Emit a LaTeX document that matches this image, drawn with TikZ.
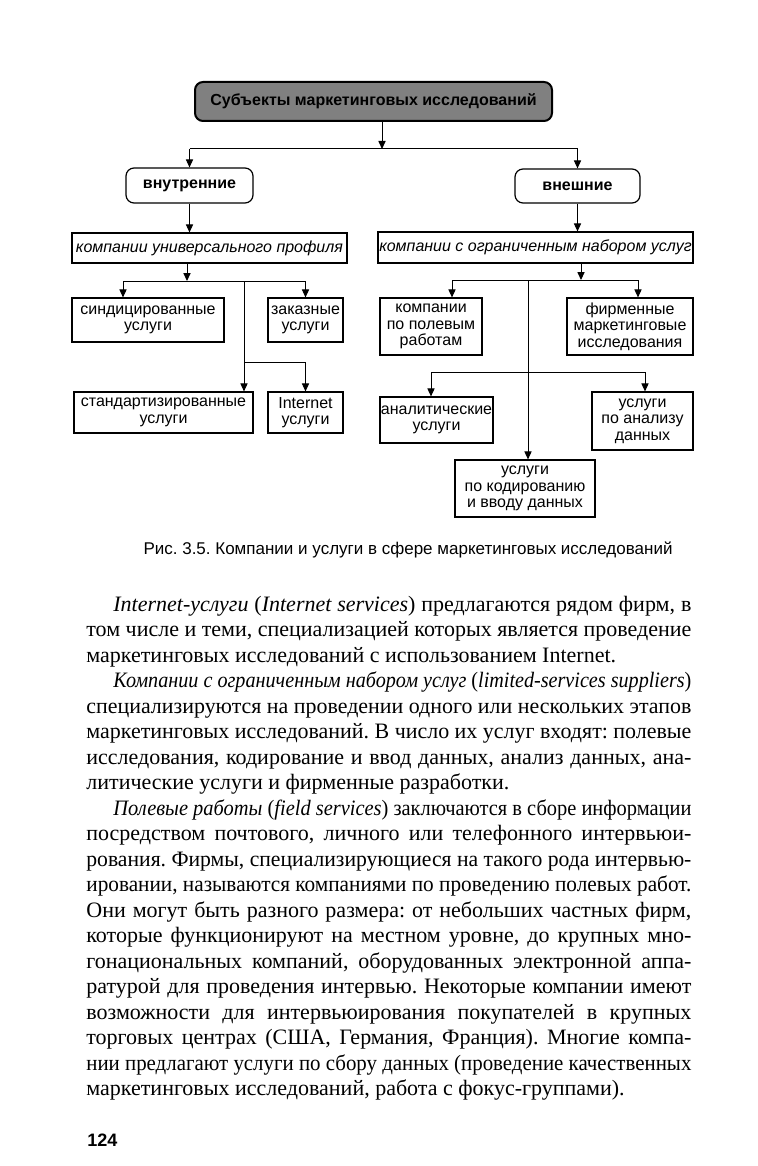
\documentclass[tikz,border=0pt]{standalone}
\usepackage{fontspec}
\usepackage{graphicx}
\setmainfont{Liberation Serif}
\newfontfamily\diagfont{Liberation Sans}
\usetikzlibrary{arrows.meta}
\frenchspacing
\newlength\bodyw \setlength\bodyw{302.5pt}
\newlength\bodyind \setlength\bodyind{13.5pt}
\newlength\fitw
\newcommand\fitline[1]{\sbox0{#1}\ifdim\wd0>\fitw\relax\resizebox{\fitw}{\height}{#1}\else\makebox[\fitw][s]{#1}\fi}
\newcommand\txtfirst[1]{\noindent\hspace*{\bodyind}\setlength\fitw{\dimexpr\bodyw-\bodyind\relax}\fitline{#1}\par}
\newcommand\txtline[1]{\noindent\setlength\fitw{\bodyw}\fitline{#1}\par}
\newcommand\txtend[1]{\noindent\makebox[\bodyw][l]{#1}\par}
\tikzset{
  box/.style={draw,line width=0.6pt,align=center,inner sep=0pt,
    font=\diagfont\fontsize{8}{8.2}\selectfont},
  rbox/.style={box,rounded corners=4pt,font=\diagfont\bfseries\fontsize{8}{9}\selectfont},
  arr/.style={-{Triangle[length=4pt,width=3.6pt]},line width=0.5pt}
}
\begin{document}
\begin{tikzpicture}[x=0.5pt,y=-0.5pt]
\fill[white] (0,0) rectangle (758,1166);
\useasboundingbox (0,0) rectangle (758,1166);
\node[rbox,fill=black!50,line width=1pt,minimum width=178.5pt,minimum height=19.5pt] (top) at (373.5,101.5) {Субъекты маркетинговых исследований};
\node[rbox,minimum width=63.5pt,minimum height=17.5pt] (inner) at (189.5,185.5) {внутренние};
\node[rbox,minimum width=62.5pt,minimum height=17pt] (outer) at (577.5,186) {внешние};
\node[box,font=\diagfont\itshape\fontsize{8}{8.2}\selectfont,minimum width=137.5pt,minimum height=15pt] (uni) at (209.5,248) {компании универсального профиля};
\node[box,font=\diagfont\itshape\fontsize{8}{8.2}\selectfont,minimum width=157.5pt,minimum height=15.5pt] (lim) at (535.5,247.5) {компании с ограниченным набором услуг};
\node[box,minimum width=76pt,minimum height=22pt] (synd) at (148,320) {синдицированные\\услуги};
\node[box,minimum width=37.5pt,minimum height=22pt] (zak) at (305.5,320) {заказные\\услуги};
\node[box,minimum width=89.5pt,minimum height=20.5pt] (std) at (163.5,412.5) {стандартизированные\\услуги};
\node[box,minimum width=37.5pt,minimum height=20.5pt] (inet) at (305.5,412.5) {Internet\\услуги};
\node[box,minimum width=51pt,minimum height=28.5pt] (field) at (431,326.5) {компании\\по полевым\\работам};
\node[box,minimum width=63pt,minimum height=28.5pt] (firm) at (630,326.5) {фирменные\\маркетинговые\\исследования};
\node[box,minimum width=56.5pt,minimum height=23pt] (anal) at (436.5,420) {аналитические\\услуги};
\node[box,minimum width=50.5pt,minimum height=29pt] (data) at (642.5,421) {услуги\\по анализу\\данных};
\node[box,minimum width=70pt,minimum height=28.5pt] (code) at (525,488.5) {услуги\\по кодированию\\и вводу данных};
\coordinate (j0) at (382,149);
\draw[arr] (top.south -| j0) -- (j0);
\draw[line width=0.5pt] (inner.north |- j0) -- (outer.north |- j0);
\draw[arr] (inner.north |- j0) -- (inner.north);
\draw[arr] (outer.north |- j0) -- (outer.north);
\draw[arr] (inner.south) -- (inner.south |- uni.north);
\draw[arr] (outer.south) -- (outer.south |- lim.north);
\coordinate (j1) at (187,281);
\coordinate (j1a) at (123,281);
\coordinate (j1b) at (244,281);
\coordinate (j1c) at (244,362);
\draw[arr] (uni.south -| j1) -- (j1);
\draw[line width=0.5pt] (j1a) -- (j1a -| zak.north);
\draw[arr] (j1a) -- (j1a |- synd.north);
\draw[arr] (j1a -| zak.north) -- (zak.north);
\draw[arr] (j1b) -- (j1b |- std.north);
\draw[arr] (j1c) -| (inet.north);
\coordinate (j2) at (581,280);
\coordinate (j2a) at (452,280);
\coordinate (j2b) at (528,280);
\coordinate (j2d) at (638,280);
\coordinate (j2c) at (431,372);
\coordinate (j2e) at (645,372);
\draw[arr] (lim.south -| j2) -- (j2);
\draw[line width=0.5pt] (j2a) -- (j2d);
\draw[arr] (j2a) -- (j2a |- field.north);
\draw[arr] (j2d) -- (j2d |- firm.north);
\draw[arr] (j2b) -- (j2b |- code.north);
\draw[line width=0.5pt] (j2c) -- (j2e);
\draw[arr] (j2c) -- (j2c |- anal.north);
\draw[arr] (j2e) -- (j2e |- data.north);
\node[font=\diagfont\fontsize{8.5}{10}\selectfont,anchor=base] (cap) at (408,554) {Рис. 3.5. Компании и услуги в сфере маркетинговых исследований};
\node[anchor=base west,inner sep=0pt] (body) at (86,611) {\parbox[t]{\bodyw}{\fontsize{11}{12.75}\selectfont\lineskiplimit=-20pt\parskip=0pt
\txtfirst{\textit{Internet-услуги} (\textit{Internet services}) предлагаются рядом фирм, в}
\txtline{том числе и теми, специализацией которых является проведение}
\txtend{маркетинговых исследований с использованием Internet.}
\txtfirst{\textit{Компании с ограниченным набором услуг} (\textit{limited-services suppliers})}
\txtline{специализируются на проведении одного или нескольких этапов}
\txtline{маркетинговых исследований. В число их услуг входят: полевые}
\txtline{исследования, кодирование и ввод данных, анализ данных, ана-}
\txtend{литические услуги и фирменные разработки.}
\txtfirst{\textit{Полевые работы} (\textit{field services}) заключаются в сборе информации}
\txtline{посредством почтового, личного или телефонного интервьюи-}
\txtline{рования. Фирмы, специализирующиеся на такого рода интервью-}
\txtline{ировании, называются компаниями по проведению полевых работ.}
\txtline{Они могут быть разного размера: от небольших частных фирм,}
\txtline{которые функционируют на местном уровне, до крупных мно-}
\txtline{гонациональных компаний, оборудованных электронной аппа-}
\txtline{ратурой для проведения интервью. Некоторые компании имеют}
\txtline{возможности для интервьюирования покупателей в крупных}
\txtline{торговых центрах (США, Германия, Франция). Многие компа-}
\txtline{нии предлагают услуги по сбору данных (проведение качественных}
\txtend{маркетинговых исследований, работа с фокус-группами).}
}};
\node[font=\diagfont\bfseries\fontsize{9}{10}\selectfont,anchor=base west,inner sep=0pt] (pnum) at (87,1146) {124};
\end{tikzpicture}
\end{document}
